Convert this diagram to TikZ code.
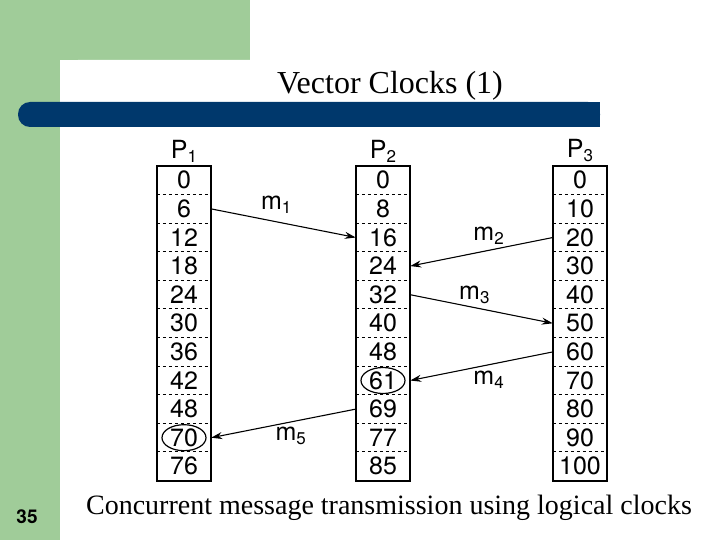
\documentclass[tikz,border=0pt]{standalone}
\usepackage{fontspec}
\setmainfont{Liberation Serif}
\newfontfamily\figfont{TeX Gyre Heros}
\usetikzlibrary{arrows.meta}
\definecolor{slidegreen}{RGB}{160,204,153}
\definecolor{slideblue}{RGB}{0,56,108}
\newcommand{\lowsub}[1]{\raisebox{-4pt}{\fontsize{17}{17}\selectfont #1}}

\begin{document}
\begin{tikzpicture}[x=1pt,y=-1pt,
    cell/.style = {minimum width=54pt,minimum height=28.6pt,inner sep=0pt,font=\figfont\fontsize{25}{25}\selectfont},
    msg/.style = {-{Stealth[length=11pt,width=7pt]},line width=1.1pt},
    lbl/.style = {font=\figfont\fontsize{25}{25}\selectfont}]
  \useasboundingbox (0,0) rectangle (720,540);
  % slide frame
  \fill[slidegreen] (0,0) rectangle (250,60);
  \fill[slidegreen] (0,0) rectangle (60,540);
  \fill[white,rounded corners=18pt] (60,60) rectangle (740,560);
  \fill[slideblue,rounded corners=12pt] (18,102) rectangle (600,127);
  \fill[slideblue] (40,102) rectangle (600,127);
  \node[font=\fontsize{32}{32}\selectfont] (title) at (390,86) {Vector Clocks (1)};
  \node[font=\figfont\bfseries\fontsize{19}{19}\selectfont] (num) at (27,517) {35};
  \node[font=\fontsize{28}{28}\selectfont] (cap) at (389,508) {Concurrent message transmission using logical clocks};
  % clock columns
  \foreach \p/\x/\vals in {1/184/{0,6,12,18,24,30,36,42,48,70,76},
                          2/383/{0,8,16,24,32,40,48,61,69,77,85},
                          3/580/{0,10,20,30,40,50,60,70,80,90,100}} {
    \node[lbl] (h\p) at (\x,151) {P\lowsub{\p}};
    \foreach \v [count=\i from 0] in \vals
      \node[cell] (p\p-\i) at (\x,180.3+28.6*\i) {\v};
    \draw[line width=1.6pt] (p\p-0.north west) rectangle (p\p-10.south east);
    \foreach \i in {1,...,10}
      \draw[dashed,thick] (p\p-\i.north west) -- (p\p-\i.north east);
  }
  \draw[line width=1.2pt] (p2-7) ellipse (22pt and 13pt);
  \draw[line width=1.2pt] (p1-9) ellipse (22pt and 13pt);
  % messages
  \draw[msg] (p1-1.east) -- node[lbl,above,pos=0.45,yshift=4pt]{m\lowsub{1}} (p2-2.west);
  \draw[msg] (p3-2.west) -- node[lbl,above,pos=0.45,yshift=2pt]{m\lowsub{2}} (p2-3.east);
  \draw[msg] (p2-4.east) -- node[lbl,above,pos=0.45,yshift=0pt]{m\lowsub{3}} (p3-5.west);
  \draw[msg] (p3-6.west) -- node[lbl,below,pos=0.45,yshift=-2pt]{m\lowsub{4}} (p2-7.east);
  \draw[msg] (p2-8.west) -- node[lbl,below,pos=0.45,yshift=-1pt]{m\lowsub{5}} (p1-9.east);
\end{tikzpicture}
\end{document}
